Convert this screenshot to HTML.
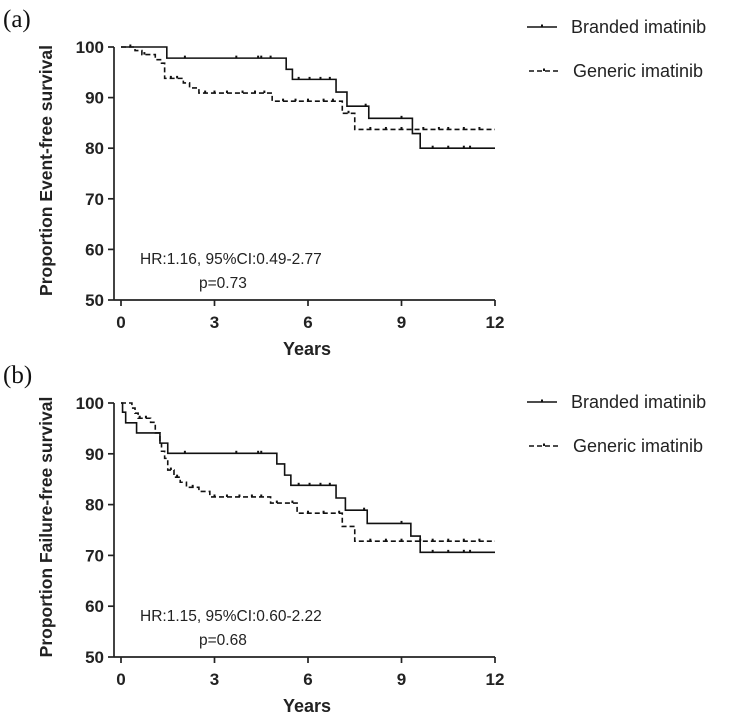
<!DOCTYPE html>
<html><head><meta charset="utf-8"><style>
html,body{margin:0;padding:0;background:#fff;}
svg{display:block;font-family:"Liberation Sans",Arial,sans-serif;}
</style></head><body>
<svg id="chart" width="734" height="716" viewBox="0 0 734 716" xmlns="http://www.w3.org/2000/svg"></svg>
<script>
// Panel (a) event-free survival
const aBrandedT = [0, 1.47, 5.3, 5.5, 6.9, 7.25, 7.95, 9.35, 9.6, 12];
const aBrandedS = [100, 97.8, 95.6, 93.6, 91.1, 88.3, 85.9, 82.9, 80.0, 80.0];
const aBrandedCens = [0.3, 2.05, 3.7, 4.4, 4.5, 4.8, 5.7, 6.05, 6.4, 6.7, 7.85, 9.0, 10.0, 10.5, 11.0, 11.2];
const aGenericT = [0, 0.45, 0.67, 1.1, 1.3, 1.4, 2.0, 2.2, 2.5, 4.85, 7.1, 7.5, 12];
const aGenericS = [100, 99.3, 98.5, 97.5, 96.8, 93.8, 92.9, 91.9, 90.9, 89.3, 86.9, 83.7, 83.7];
const aGenericCens = [0.75, 1.6, 1.8, 2.7, 3.0, 3.4, 3.9, 4.3, 4.6, 5.2, 5.6, 6.0, 6.5, 6.8, 7.3, 8.0, 8.5, 9.0, 9.7, 10.2, 10.5, 11.0, 11.5];
// Panel (b) failure-free survival
const bBrandedT = [0, 0.05, 0.15, 0.5, 1.25, 1.5, 5.0, 5.25, 5.45, 6.9, 7.2, 7.9, 9.3, 9.6, 12];
const bBrandedS = [100, 98.2, 96.1, 94.1, 92.1, 90.1, 88.0, 85.8, 83.8, 81.3, 78.9, 76.3, 73.8, 70.6, 70.6];
const bBrandedCens = [2.05, 3.7, 4.4, 4.5, 5.7, 6.05, 6.4, 6.7, 7.8, 9.0, 10.0, 10.5, 11.0, 11.2];
const bGenericT = [0, 0.35, 0.45, 0.55, 0.95, 1.1, 1.25, 1.3, 1.4, 1.5, 1.7, 1.9, 2.1, 2.5, 2.85, 4.8, 5.65, 7.1, 7.5, 12];
const bGenericS = [100, 99, 98, 97, 96.2, 94.1, 92.5, 90.5, 89.1, 86.8, 85.4, 84.4, 83.4, 82.6, 81.5, 80.3, 78.3, 75.7, 72.8, 72.8];
const bGenericCens = [0.6, 0.8, 1.6, 1.8, 2.3, 3.0, 3.4, 3.8, 4.2, 4.5, 5.0, 5.5, 6.0, 6.5, 7.0, 8.0, 8.5, 9.0, 9.6, 10.0, 10.5, 11.0, 11.5];
const xTicks = [0, 3, 6, 9, 12];
const yTicks = [50, 60, 70, 80, 90, 100];

const NS = "http://www.w3.org/2000/svg";
const svg = document.getElementById('chart');
function mk(tag, attrs, parent, text) {
  const e = document.createElementNS(NS, tag);
  for (const k in attrs) e.setAttribute(k, attrs[k]);
  if (text !== undefined) e.textContent = text;
  (parent || svg).appendChild(e);
  return e;
}
function stepPath(T, S, sx, sy) {
  let d = 'M' + sx(T[0]) + ' ' + sy(S[0]);
  for (let i = 1; i < T.length; i++) {
    d += ' H' + sx(T[i]) + ' V' + sy(S[i]);
  }
  return d;
}
function survAt(T, S, t) {
  let v = S[0];
  for (let i = 0; i < T.length; i++) if (T[i] <= t) v = S[i];
  return v;
}
function panel(cfg) {
  const g = mk('g', {}, svg);
  
  
  const x0 = 121, x1 = 495;
  const sx = t => x0 + (t / 12) * (x1 - x0);
  const sy = v => cfg.yBottom - (v - 50) / 50 * (cfg.yBottom - cfg.yTop);
  const ya = mk('line', {x1: 114, y1: cfg.yTop, x2: 114, y2: cfg.yBottom, stroke: '#222', 'stroke-width': 1.7}, g);
  
  
  yTicks.forEach(v => {
    mk('line', {x1: 108, y1: sy(v), x2: 114, y2: sy(v), stroke: '#222', 'stroke-width': 1.7}, g);
    const t = mk('text', {x: 104, y: sy(v) + 6, 'text-anchor': 'end', 'font-size': 17, 'font-weight': 'bold', fill: '#222'}, g, String(v));
    
    
  });
  const xa = mk('line', {x1: 114, y1: cfg.yBottom, x2: x1, y2: cfg.yBottom, stroke: '#222', 'stroke-width': 1.7}, g);
  
  
  xTicks.forEach(v => {
    mk('line', {x1: sx(v), y1: cfg.yBottom, x2: sx(v), y2: cfg.yBottom + 6, stroke: '#222', 'stroke-width': 1.7}, g);
    const t = mk('text', {x: sx(v), y: cfg.yBottom + 28, 'text-anchor': 'middle', 'font-size': 17, 'font-weight': 'bold', fill: '#222'}, g, String(v));
    
    
  });
  const xt = mk('text', {x: 307, y: cfg.yBottom + 55, 'text-anchor': 'middle', 'font-size': 18, 'font-weight': 'bold', fill: '#222'}, g, 'Years');
  
  
  const cy = (cfg.yTop + cfg.yBottom) / 2 - 3;
  const yt = mk('text', {x: 52, y: cy, 'text-anchor': 'middle', 'font-size': 17.5, 'font-weight': 'bold', fill: '#222', transform: 'rotate(-90 52 ' + cy + ')'}, g, cfg.yTitle);
  
  
  const pl = mk('text', {x: 3, y: cfg.yTop - 20, 'font-size': 25, 'font-family': '"Liberation Serif",serif', fill: '#111'}, g, cfg.label);
  
  
  const hr = mk('text', {x: 140, y: cfg.yBottom - 36, 'font-size': 15.5, fill: '#222'}, g, cfg.hr);
  
  
  const p = mk('text', {x: 199, y: cfg.yBottom - 12, 'font-size': 15.5, fill: '#222'}, g, cfg.p);
  
  
  const series = [
    {T: cfg.bT, S: cfg.bS, C: cfg.bC, dash: '', name: 'branded-curve'},
    {T: cfg.gT, S: cfg.gS, C: cfg.gC, dash: '5,3', name: 'generic-curve'}
  ];
  series.forEach(s => {
    const path = mk('path', {d: stepPath(s.T, s.S, sx, sy), fill: 'none', stroke: '#111', 'stroke-width': 1.6, 'stroke-dasharray': s.dash}, g);
    
    
    s.C.forEach(t => {
      const v = survAt(s.T, s.S, t);
      const c = mk('line', {x1: sx(t), y1: sy(v) - 2.5, x2: sx(t), y2: sy(v), stroke: '#111', 'stroke-width': 2}, g);
      
      
    });
  });
  const ly = cfg.legendY;
  const l1 = mk('line', {x1: 527, y1: ly, x2: 557, y2: ly, stroke: '#111', 'stroke-width': 1.6}, g);
  
  
  mk('line', {x1: 542, y1: ly - 2.5, x2: 542, y2: ly, stroke: '#111', 'stroke-width': 2}, g);
  const t1 = mk('text', {x: 571, y: ly + 6, 'font-size': 18, fill: '#222'}, g, 'Branded imatinib');
  
  
  const l2 = mk('line', {x1: 529, y1: ly + 44, x2: 559, y2: ly + 44, stroke: '#111', 'stroke-width': 1.6, 'stroke-dasharray': '5,3'}, g);
  
  
  mk('line', {x1: 544, y1: ly + 41.5, x2: 544, y2: ly + 44, stroke: '#111', 'stroke-width': 2}, g);
  const t2 = mk('text', {x: 573, y: ly + 50, 'font-size': 18, fill: '#222'}, g, 'Generic imatinib');
  
  
}
panel({name: 'panel-a', label: '(a)', yTop: 47, yBottom: 300, yTitle: 'Proportion Event-free survival',
  hr: 'HR:1.16, 95%CI:0.49-2.77', p: 'p=0.73', legendY: 27,
  bT: aBrandedT, bS: aBrandedS, bC: aBrandedCens, gT: aGenericT, gS: aGenericS, gC: aGenericCens});
panel({name: 'panel-b', label: '(b)', yTop: 403, yBottom: 657, yTitle: 'Proportion Failure-free survival',
  hr: 'HR:1.15, 95%CI:0.60-2.22', p: 'p=0.68', legendY: 402,
  bT: bBrandedT, bS: bBrandedS, bC: bBrandedCens, gT: bGenericT, gS: bGenericS, gC: bGenericCens});
</script>
</body></html>
